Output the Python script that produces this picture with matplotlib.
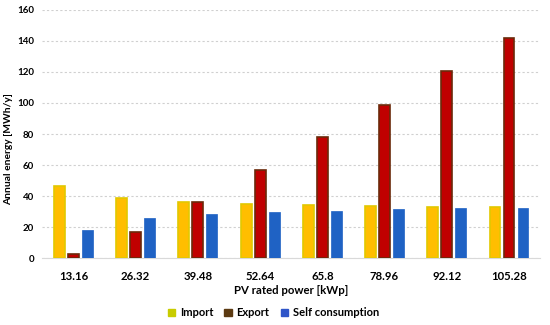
import matplotlib
matplotlib.use("Agg")
import matplotlib.pyplot as plt
import numpy as np
from matplotlib.patches import Patch

categories = ["13.16", "26.32", "39.48", "52.64", "65.8", "78.96", "92.12", "105.28"]
import_vals = [46.8, 39.0, 36.4, 35.1, 34.1, 33.6, 33.2, 32.8]
export_vals = [2.8, 17.0, 36.4, 56.9, 77.8, 98.8, 120.3, 141.7]
self_vals = [18.3, 25.9, 28.7, 30.0, 30.8, 31.5, 32.1, 32.3]

plt.rcParams['font.family'] = ['Lato', 'DejaVu Sans']

fig = plt.figure(figsize=(5.5, 3.25), dpi=100)
ax = fig.add_axes([0.077, 0.205, 0.905, 0.765])

x = np.arange(len(categories))
w = 0.175
off = 0.225
ax.bar(x - off, import_vals, w, color='#FFBE00', edgecolor='#E2C800', linewidth=1.2, zorder=3)
ax.bar(x, export_vals, w, color='#C00000', edgecolor='#6B2A0A', linewidth=1.2, zorder=3)
ax.bar(x + off, self_vals, w, color='#1F62C4', edgecolor='#1F62C4', linewidth=0.5, zorder=3)

ax.set_xlim(-0.5, len(categories) - 0.5)
ax.set_ylim(0, 160)
ax.set_yticks(range(0, 161, 20))
ax.set_xticks(x)
ax.set_xticklabels(categories, fontsize=8.2, fontweight='bold')
for t in ax.get_yticklabels():
    t.set_fontsize(7)
    t.set_fontweight('bold')
ax.tick_params(axis='both', length=0)
ax.tick_params(axis='x', pad=9)
ax.tick_params(axis='y', pad=6)
ax.grid(axis='y', linestyle=(0, (2, 2)), color='#D0D0D0', linewidth=0.8, zorder=0)
for s in ['top', 'right', 'left']:
    ax.spines[s].set_visible(False)
ax.spines['bottom'].set_color('#D9D9D9')

ax.set_ylabel('Annual energy [MWh/y]', fontsize=7.4, fontweight='bold')
ax.yaxis.set_label_coords(-0.059, 0.44)
ax.set_xlabel('PV rated power [kWp]', fontsize=8.2, fontweight='bold', labelpad=2)

handles = [Patch(color='#C8CC00', label='Import'),
           Patch(color='#5C3A12', label='Export'),
           Patch(color='#2F55C8', label='Self consumption')]
fig.legend(handles=handles, loc='center', bbox_to_anchor=(0.497, 0.037), ncol=3, frameon=False,
           prop={'size': 8, 'weight': 'bold'}, handlelength=0.7, handleheight=0.7,
           handletextpad=0.4, columnspacing=1.0)

fig.savefig('out.png', dpi=100)
